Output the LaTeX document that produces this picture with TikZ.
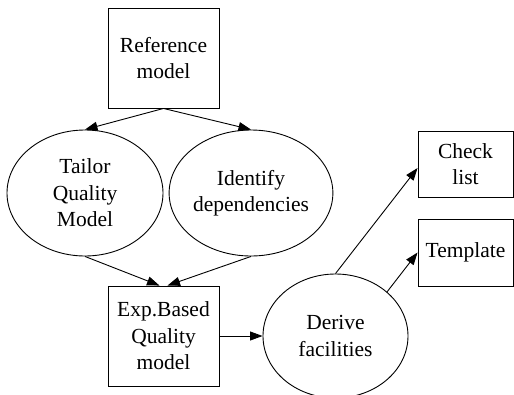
\documentclass[tikz,border=0pt]{standalone}
\usepackage{fontspec}
\setmainfont{Liberation Serif}
\usetikzlibrary{shapes.geometric,arrows.meta}
\tikzset{
  lbl/.style={font=\fontsize{21.5}{26.5}\selectfont, align=center, inner sep=0pt},
  boxnode/.style={lbl, draw, line width=0.9pt, rectangle},
  ellnode/.style={lbl, draw, line width=0.9pt, ellipse},
  conn/.style={line width=0.9pt, -{Triangle[length=12.5pt,width=9pt]}}
}
\begin{document}
\begin{tikzpicture}[x=1pt,y=-1pt]
\useasboundingbox (0,0) rectangle (514,394);
\node[boxnode, minimum width=111pt, minimum height=100pt] (ref) at (163.5,58) {Reference\\model};
\node[ellnode, minimum width=156pt, minimum height=126pt] (tailor) at (85,193) {Tailor\\Quality\\Model};
\node[ellnode, minimum width=154pt, minimum height=126pt] (ident) at (251,193) {Identify\\dependencies};
\node[boxnode, minimum width=111pt, minimum height=100pt] (exp) at (163.5,336) {Exp.Based\\Quality\\model};
\node[ellnode, minimum width=145pt, minimum height=124pt] (derive) at (335.5,336) {Derive\\facilities};
\node[boxnode, minimum width=95pt, minimum height=66pt] (check) at (465.5,164) {Check\\list};
\node[boxnode, minimum width=95pt, minimum height=67pt] (templ) at (465.5,252.5) {Template};
\draw[conn] (ref.south) -- (tailor.north);
\draw[conn] (ref.south) -- (ident.north);
\draw[conn] (tailor.south) -- ([xshift=-4pt]exp.north);
\draw[conn] (ident.south) -- ([xshift=4pt]exp.north);
\draw[conn] (exp.east) -- (derive.west);
\draw[conn] (derive.north) -- ([yshift=-4pt]check.west);
\draw[conn] (derive.north east) -- (templ.west);
\end{tikzpicture}
\end{document}
